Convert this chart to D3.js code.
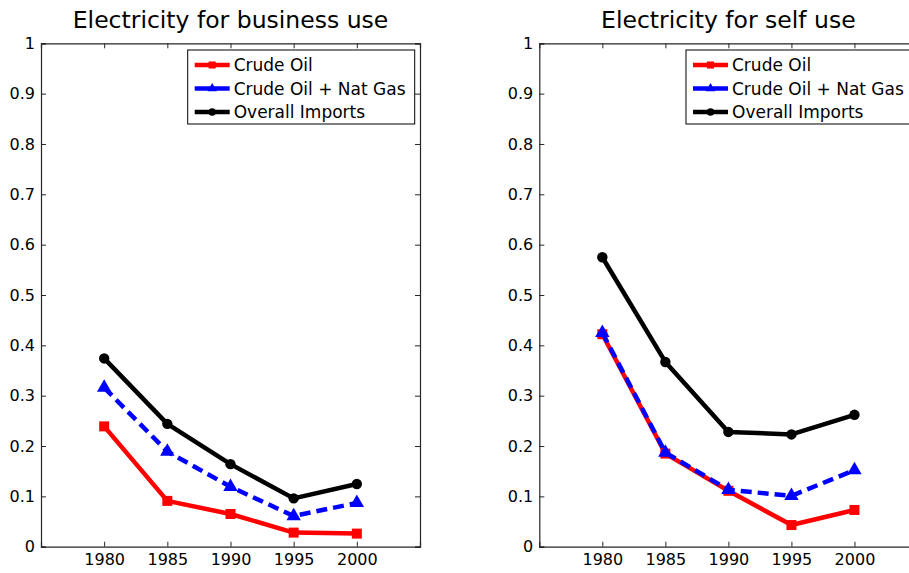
<!DOCTYPE html>
<html>
<head>
<meta charset="utf-8">
<script src="https://cdn.jsdelivr.net/npm/d3@7"></script>
<style>
  body { margin: 0; background: #fff; }
  text { font-family: "DejaVu Sans", sans-serif; fill: #000; }
</style>
</head>
<body>
<svg id="chart" width="909" height="573"></svg>
<script>
const years = [1980, 1985, 1990, 1995, 2000];
const yTicks = [0, 0.1, 0.2, 0.3, 0.4, 0.5, 0.6, 0.7, 0.8, 0.9, 1];
const seriesNames = ['Crude Oil', 'Crude Oil + Nat Gas', 'Overall Imports'];

// left panel: business use
const businessCrude = [0.239, 0.091, 0.065, 0.028, 0.026];
const businessCrudeGas = [0.316, 0.189, 0.119, 0.061, 0.087];
const businessOverall = [0.374, 0.244, 0.164, 0.096, 0.1245];

// right panel: self use
const selfCrude = [0.422, 0.185, 0.111, 0.043, 0.073];
const selfCrudeGas = [0.425, 0.187, 0.113, 0.101, 0.152];
const selfOverall = [0.575, 0.367, 0.228, 0.223, 0.262];

const styles = [
  { color: '#ff0000', dash: null, symbol: d3.symbolSquare, size: 100, legSize: 50 },
  { color: '#0000ff', dash: '11,6', symbol: d3.symbolTriangle, size: 90, legSize: 40 },
  { color: '#000000', dash: null, symbol: d3.symbolCircle, size: 85, legSize: 45 }
];

const panels = [
  { title: 'Electricity for business use', left: 41, right: 420, data: [businessCrude, businessCrudeGas, businessOverall] },
  { title: 'Electricity for self use', left: 539.3, right: 917.5, data: [selfCrude, selfCrudeGas, selfOverall] }
];

const plotTop = 43.3, plotBottom = 546.7;
const svg = d3.select('#chart');

panels.forEach(p => {
  const x = d3.scaleLinear().domain([1975, 2005]).range([p.left, p.right]);
  const y = d3.scaleLinear().domain([0, 1]).range([plotBottom, plotTop]);
  const g = svg.append('g');

  // title
  g.append('text')
    .attr('x', (p.left + p.right) / 2)
    .attr('y', 27.5)
    .attr('text-anchor', 'middle')
    .style('font-size', '23.5px')
    .text(p.title);

  // axes, ticks inward like matlab
  const axes = [
    g.append('g').attr('transform', `translate(${p.left},0)`)
      .call(d3.axisLeft(y).tickValues(yTicks).tickSize(-5).tickPadding(6).tickFormat(d => String(+d.toFixed(1)))),
    g.append('g').attr('transform', `translate(${p.right},0)`)
      .call(d3.axisRight(y).tickValues(yTicks).tickSize(-5).tickFormat('')),
    g.append('g').attr('transform', `translate(0,${plotBottom})`)
      .call(d3.axisBottom(x).tickValues(years).tickSize(-5).tickPadding(7).tickFormat(d3.format('d'))),
    g.append('g').attr('transform', `translate(0,${plotTop})`)
      .call(d3.axisTop(x).tickValues(years).tickSize(-5).tickFormat(''))
  ];
  axes.forEach(a => {
    a.select('.domain').attr('stroke', '#262626').attr('stroke-width', 1.2);
    a.selectAll('.tick line').attr('stroke', '#262626');
    a.selectAll('text').style('font-size', '16px').attr('fill', '#000');
  });

  const line = d3.line().x((d, i) => x(years[i])).y(d => y(d));

  p.data.forEach((vals, si) => {
    const s = styles[si];
    g.append('path')
      .datum(vals)
      .attr('d', line)
      .attr('fill', 'none')
      .attr('stroke', s.color)
      .attr('stroke-width', 4.5)
      .attr('stroke-dasharray', s.dash)
      .attr('stroke-linejoin', 'round');
    g.selectAll(null)
      .data(vals)
      .enter()
      .append('path')
      .attr('transform', (d, i) => `translate(${x(years[i])},${y(d)})`)
      .attr('d', d3.symbol().type(s.symbol).size(s.size))
      .attr('fill', s.color);
  });

  // legend
  const lx = p.left + 146.7, ly = 50;
  const leg = g.append('g').attr('transform', `translate(${lx},${ly})`);
  leg.append('rect')
    .attr('width', 227).attr('height', 74)
    .attr('fill', '#fff').attr('stroke', '#000').attr('stroke-width', 1);
  seriesNames.forEach((name, i) => {
    const s = styles[i];
    const cy = 15 + i * 23.5;
    leg.append('line')
      .attr('x1', 7).attr('x2', 42).attr('y1', cy).attr('y2', cy)
      .attr('stroke', s.color).attr('stroke-width', 4.5);
    leg.append('path')
      .attr('transform', `translate(24.5,${cy})`)
      .attr('d', d3.symbol().type(s.symbol).size(s.legSize))
      .attr('fill', s.color);
    leg.append('text')
      .attr('x', 46).attr('y', cy)
      .attr('dy', '0.36em')
      .style('font-size', '17px')
      .text(name);
  });
});
</script>
</body>
</html>
